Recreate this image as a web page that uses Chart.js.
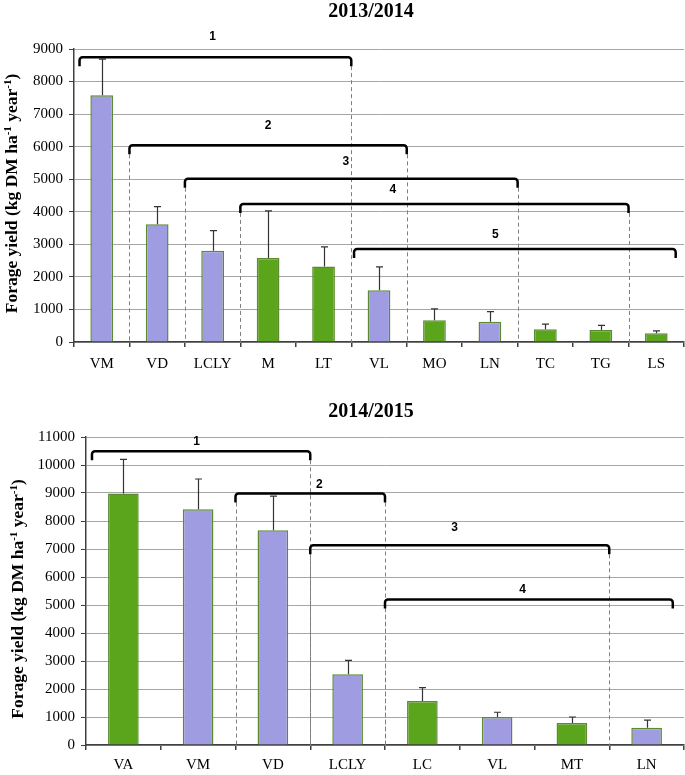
<!DOCTYPE html>
<html>
<head>
<meta charset="utf-8">
<script src="https://cdn.jsdelivr.net/npm/chart.js@4.4.1/dist/chart.umd.min.js"></script>
<style>
  body { margin: 0; background: #fff; }
  .box { position: absolute; left: 0; width: 685px; }
</style>
</head>
<body>
<div class="box" style="top:0;height:378px"><canvas id="chart-1"></canvas></div>
<div class="box" style="top:378px;height:397px"><canvas id="chart-2"></canvas></div>
<script>
'use strict'
/// data: 2013/2014 ///
const labels1 = ['VM', 'VD', 'LCLY', 'M', 'LT', 'VL', 'MO', 'LN', 'TC', 'TG', 'LS']
const yield1 = [7580, 3620, 2800, 2580, 2320, 1590, 670, 620, 390, 370, 270]
const sd1 = [1110, 540, 620, 1450, 600, 720, 350, 310, 160, 140, 70]
const kind1 = ['v', 'v', 'v', 'g', 'g', 'v', 'g', 'v', 'g', 'g', 'g'] // v = purple, g = green
const yMax1 = 9000
// groups: name, first/last category boundary, bracket height, label position (category units / kg)
const groupNames1 = ['1', '2', '3', '4', '5']
const groupFrom1 = [0.1, 1, 2, 3, 5.05]
const groupTo1 = [5, 6, 8, 10, 10.85]
const groupLevel1 = [8750, 6040, 5017, 4240, 2857]
const groupLabelX1 = [2.5, 3.5, 4.9, 5.75, 7.6]
const groupLabelY1 = [9380, 6645, 5540, 4680, 3300]

/// data: 2014/2015 ///
const labels2 = ['VA', 'VM', 'VD', 'LCLY', 'LC', 'VL', 'MT', 'LN']
const yield2 = [8980, 8420, 7670, 2530, 1570, 1000, 790, 620]
const sd2 = [1220, 1080, 1220, 490, 480, 170, 210, 270]
const kind2 = ['g', 'v', 'v', 'v', 'g', 'v', 'g', 'v']
const yMax2 = 11000
const groupNames2 = ['1', '2', '3', '4']
const groupFrom2 = [0.08, 2, 3, 4]
const groupTo2 = [3, 4, 7, 7.85]
const groupLevel2 = [10490, 8980, 7130, 5200]
const groupLabelX2 = [1.48, 3.12, 4.93, 5.84]
const groupLabelY2 = [10850, 9300, 7760, 5560]

///styles///
const PURPLE = '#a09ce2'
const GREEN = '#5aa51b'
const EDGE = '#5b8a30'
const GRID = '#a6a6a6'
const AXIS = '#404040'
const SERIF = '"Liberation Serif", "Times New Roman", serif'

//draws title, y title, error bars, brackets
function extrasPlugin(cfg) {
  return {
    id: 'extras',
    afterDraw(chart) {
      const ctx = chart.ctx
      const xs = chart.scales.x
      const ys = chart.scales.y
      const area = chart.chartArea
      const n = cfg.labels.length
      ctx.save()

      ///error bars
      const bars = chart.getDatasetMeta(0).data
      ctx.strokeStyle = '#333'
      ctx.lineWidth = 1.2
      for (let i = 0; i < bars.length; i++) {
        const x = Math.round(bars[i].x) + 0.5
        const yTop = ys.getPixelForValue(cfg.values[i] + cfg.sd[i])
        ctx.beginPath()
        ctx.moveTo(x, bars[i].y)
        ctx.lineTo(x, yTop)
        ctx.moveTo(x - 3.5, yTop)
        ctx.lineTo(x + 3.5, yTop)
        ctx.stroke()
      }

      ///dashed lines under bracket ends
      ctx.strokeStyle = '#7f7f7f'
      ctx.lineWidth = 1
      ctx.setLineDash([4, 3])
      for (let g = 0; g < cfg.names.length; g++) {
        const y = ys.getPixelForValue(cfg.level[g]) + 9
        for (const b of [cfg.from[g], cfg.to[g]]) {
          if (Number.isInteger(b) && b > 0 && b < n) {
            const x = Math.round(xs.getPixelForValue(b - 0.5)) + 0.5
            ctx.beginPath()
            ctx.moveTo(x, y)
            ctx.lineTo(x, area.bottom)
            ctx.stroke()
          }
        }
      }
      ctx.setLineDash([])

      ///brackets
      ctx.strokeStyle = '#000'
      ctx.lineWidth = 2.5
      ctx.lineJoin = 'round'
      ctx.fillStyle = '#000'
      ctx.font = 'bold 12px "Liberation Sans", Arial, sans-serif'
      ctx.textAlign = 'center'
      ctx.textBaseline = 'middle'
      for (let g = 0; g < cfg.names.length; g++) {
        const x1 = xs.getPixelForValue(cfg.from[g] - 0.5)
        const x2 = xs.getPixelForValue(cfg.to[g] - 0.5)
        const y = ys.getPixelForValue(cfg.level[g])
        ctx.beginPath()
        ctx.moveTo(x1, y + 9)
        ctx.arcTo(x1, y, x1 + 4, y, 3)
        ctx.arcTo(x2, y, x2, y + 4, 3)
        ctx.lineTo(x2, y + 9)
        ctx.stroke()
        ctx.fillText(cfg.names[g], xs.getPixelForValue(cfg.labelX[g] - 0.5), ys.getPixelForValue(cfg.labelY[g]))
      }

      ///panel title
      ctx.font = 'bold 20px ' + SERIF
      ctx.fillText(cfg.title, cfg.titleX, cfg.titleY)

      ///y axis title with superscripts
      const parts = [['Forage yield (kg DM ha', false], ['-1', true], [' year', false], ['-1', true], [')', false]]
      const big = 'bold 17.5px ' + SERIF
      const small = 'bold 11px ' + SERIF
      let total = 0
      for (const p of parts) {
        ctx.font = p[1] ? small : big
        total += ctx.measureText(p[0]).width
      }
      ctx.translate(cfg.yTitleX, (area.top + area.bottom) / 2 + cfg.yTitleShift)
      ctx.rotate(-Math.PI / 2)
      ctx.textAlign = 'left'
      ctx.textBaseline = 'alphabetic'
      let pos = -total / 2
      for (const p of parts) {
        ctx.font = p[1] ? small : big
        ctx.fillText(p[0], pos, p[1] ? 0 : 6)
        pos += ctx.measureText(p[0]).width
      }
      ctx.restore()
    }
  }
}

function makeChart(id, cfg) {
  const tickFont = { family: SERIF, size: 15 }
  return new Chart(document.getElementById(id), {
    type: 'bar',
    data: {
      labels: cfg.labels,
      datasets: [{
        data: cfg.values,
        backgroundColor: cfg.kind.map(k => k === 'g' ? GREEN : PURPLE),
        borderColor: EDGE,
        borderWidth: 1.5,
        borderSkipped: 'bottom',
        barPercentage: 0.41,
        categoryPercentage: 1
      }]
    },
    options: {
      responsive: true,
      maintainAspectRatio: false,
      animation: false,
      layout: { padding: { top: cfg.padTop, right: 1, left: 0, bottom: 0 } },
      plugins: { legend: { display: false }, tooltip: { enabled: false } },
      scales: {
        x: {
          grid: { display: true, drawOnChartArea: false, offset: true, tickLength: 5, color: AXIS, lineWidth: 1.5 },
          border: { color: AXIS, width: 1.5 },
          ticks: { color: '#000', font: tickFont, padding: cfg.xPad, maxRotation: 0 },
          afterFit: s => { s.height = cfg.xHeight }
        },
        y: {
          min: 0,
          max: cfg.max,
          ticks: { stepSize: 1000, color: '#000', font: tickFont, padding: 6, callback: v => String(v) },
          grid: { color: GRID, tickLength: 5, tickColor: AXIS },
          border: { color: AXIS, width: 1.5 },
          afterFit: s => { s.width = cfg.yWidth }
        }
      }
    },
    plugins: [extrasPlugin(cfg)]
  })
}

makeChart('chart-1', {
  labels: labels1, values: yield1, sd: sd1, kind: kind1, max: yMax1,
  names: groupNames1, from: groupFrom1, to: groupTo1, level: groupLevel1,
  labelX: groupLabelX1, labelY: groupLabelY1,
  title: '2013/2014', titleX: 371, titleY: 12,
  padTop: 49, xHeight: 36, xPad: 8, yWidth: 74, yTitleX: 11, yTitleShift: -2
})

makeChart('chart-2', {
  labels: labels2, values: yield2, sd: sd2, kind: kind2, max: yMax2,
  names: groupNames2, from: groupFrom2, to: groupTo2, level: groupLevel2,
  labelX: groupLabelX2, labelY: groupLabelY2,
  title: '2014/2015', titleX: 371, titleY: 34,
  padTop: 59, xHeight: 30, xPad: 6, yWidth: 86, yTitleX: 17, yTitleShift: 8
})
</script>
</body>
</html>
